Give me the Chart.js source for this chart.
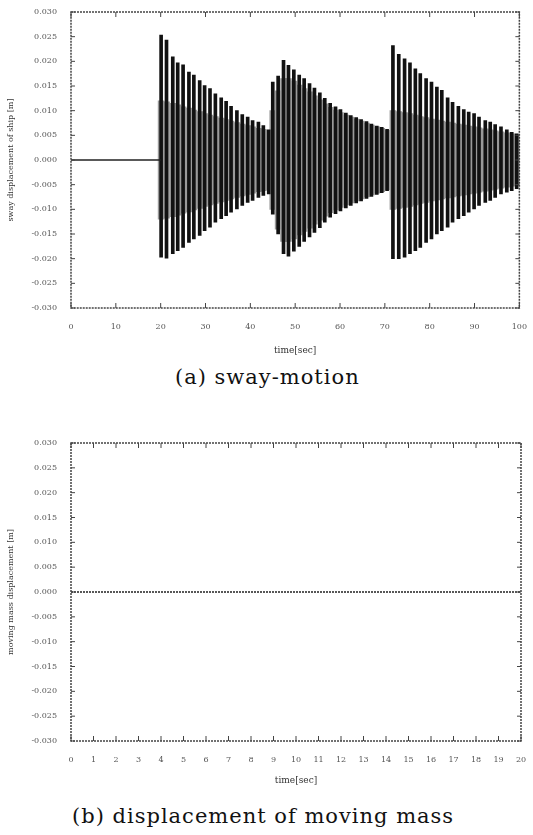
<!DOCTYPE html>
<html>
<head>
<meta charset="utf-8">
<script src="https://cdn.jsdelivr.net/npm/chart.js@4/dist/chart.umd.min.js"></script>
<style>
  body { margin: 0; background: #fff; width: 533px; height: 835px; position: relative; overflow: hidden; }
  canvas { position: absolute; left: 0; }
  .cap { position: absolute; font-family: "DejaVu Serif", serif; font-size: 21px; letter-spacing: 1px; color: #111; white-space: nowrap; }
</style>
</head>
<body>
<canvas id="swayChart" width="533" height="360" style="top:0px"></canvas>
<div class="cap" style="left:175px; top:365px;">(a) sway-motion</div>
<canvas id="massChart" width="533" height="360" style="top:430px"></canvas>
<div class="cap" style="left:72px; top:804px;">(b) displacement of moving mass</div>
<script>
  var yTicks = [-0.03, -0.025, -0.02, -0.015, -0.01, -0.005, 0, 0.005, 0.01, 0.015, 0.02, 0.025, 0.03];
  var swayXTicks = [0, 10, 20, 30, 40, 50, 60, 70, 80, 90, 100];
  var massXTicks = [0, 1, 2, 3, 4, 5, 6, 7, 8, 9, 10, 11, 12, 13, 14, 15, 16, 17, 18, 19, 20];

  // sway: resting part, then three excitations (each swing drawn as a column)
  var restTime = [0, 20];
  var restSway = [0, 0];
  var swingTime = [20.1, 21.3, 22.7, 23.8, 25.0, 26.3, 27.4, 28.7, 29.8, 31.0, 32.2, 33.5, 34.6, 35.7, 37.0, 38.2, 39.4, 40.5, 41.8, 42.9, 44.1,
    45.0, 46.2, 47.4, 48.5, 49.7, 50.9, 52.0, 53.2, 54.3, 55.5, 56.6, 57.8, 59.0, 60.1, 61.3, 62.4, 63.6, 64.7, 65.9, 67.0, 68.2, 69.3, 70.5,
    71.8, 73.1, 74.4, 75.6, 76.8, 77.9, 79.2, 80.4, 81.6, 82.7, 84.0, 85.1, 86.4, 87.6, 88.7, 89.9, 91.0, 92.4, 93.5, 94.6, 95.9, 97.2, 98.3, 99.4];
  var swingHigh = [.0253, .0243, .0209, .0197, .0193, .0178, .0172, .0161, .0151, .0145, .0134, .0126, .0119, .0109, .0100, .0092, .0087, .0080, .0077, .0070, .0061,
    .0158, .0170, .0202, .0192, .0183, .0172, .0165, .0155, .0146, .0136, .0125, .0115, .0108, .0102, .0095, .0090, .0086, .0082, .0078, .0073, .0069, .0066, .0062,
    .0232, .0214, .0205, .0197, .0185, .0175, .0165, .0158, .0148, .0141, .0126, .0117, .0109, .0102, .0097, .0094, .0087, .0080, .0077, .0072, .0067, .0061, .0056, .0053];
  var swingLow = [-.0197, -.0199, -.0190, -.0184, -.0177, -.0167, -.0160, -.0153, -.0143, -.0136, -.0126, -.0119, -.0113, -.0106, -.0099, -.0092, -.0086, -.0082, -.0076, -.0072, -.0069,
    -.0110, -.0150, -.0190, -.0195, -.0185, -.0175, -.0165, -.0156, -.0147, -.0137, -.0126, -.0116, -.0109, -.0103, -.0097, -.0092, -.0087, -.0083, -.0078, -.0074, -.0070, -.0066, -.0062,
    -.0200, -.0200, -.0197, -.0190, -.0184, -.0177, -.0167, -.0160, -.0150, -.0143, -.0136, -.0126, -.0119, -.0113, -.0106, -.0099, -.0092, -.0086, -.0082, -.0076, -.0069, -.0065, -.0062, -.0058];
  var innerAmp = [.0120, .0118, .0115, .0112, .0108, .0105, .0101, .0098, .0094, .0091, .0088, .0085, .0082, .0079, .0076, .0073, .0070, .0067, .0064, .0062, .0060,
    .0100, .0140, .0165, .0165, .0160, .0152, .0145, .0138, .0130, .0122, .0114, .0107, .0101, .0096, .0091, .0087, .0083, .0079, .0075, .0071, .0067, .0064, .0060,
    .0100, .0098, .0096, .0094, .0091, .0088, .0086, .0083, .0081, .0079, .0077, .0075, .0073, .0071, .0069, .0067, .0065, .0063, .0061, .0059, .0057, .0055, .0053, .0052];

  // moving mass: stays at zero
  var massTime = [0, 20];
  var massDisp = [0, 0];

  var boxPlugin = {
    id: 'box',
    afterDatasetsDraw: function(chart) {
      var a = chart.chartArea, c = chart.ctx;
      var xs = chart.scales.x, ys = chart.scales.y;
      c.save();
      c.strokeStyle = '#444';
      c.lineWidth = 1.5;
      c.setLineDash([2, 1]);
      c.strokeRect(a.left, a.top, a.right - a.left, a.bottom - a.top);
      c.setLineDash([]);
      c.lineWidth = 1;
      c.beginPath();
      xs.ticks.forEach(function(t) {
        var px = xs.getPixelForValue(t.value);
        c.moveTo(px, a.bottom); c.lineTo(px, a.bottom - 5);
        c.moveTo(px, a.top); c.lineTo(px, a.top + 5);
      });
      ys.ticks.forEach(function(t) {
        var py = ys.getPixelForValue(t.value);
        c.moveTo(a.left, py); c.lineTo(a.left + 4, py);
        c.moveTo(a.right, py); c.lineTo(a.right - 4, py);
      });
      c.stroke();
      c.restore();
    }
  };

  function pts(xs, ys) {
    var out = [];
    for (var i = 0; i < xs.length; i++) out.push({x: xs[i], y: ys[i]});
    return out;
  }

  function makeScales(xTicks, xMax, yTitle, xHeight) {
    return {
      x: {
        type: 'linear', min: 0, max: xMax, offset: false,
        afterBuildTicks: function(s) { s.ticks = xTicks.map(function(v) { return {value: v}; }); },
        afterFit: function(s) { s.height = xHeight; },
        grid: { display: false },
        border: { display: false },
        ticks: { autoSkip: false, maxRotation: 0, padding: 6, color: '#555', font: { family: 'DejaVu Serif', size: 8 } },
        title: { display: true, text: 'time[sec]', color: '#333', padding: {top: 6}, font: { family: 'DejaVu Serif', size: 9 } }
      },
      y: {
        min: -0.03, max: 0.03,
        afterBuildTicks: function(s) { s.ticks = yTicks.map(function(v) { return {value: v}; }); },
        afterFit: function(s) { s.width = 71; },
        grid: { display: false },
        border: { display: false },
        ticks: { padding: 6, color: '#555', font: { family: 'DejaVu Serif', size: 8 },
          callback: function(v) { return v.toFixed(3); } },
        title: { display: true, text: yTitle, color: '#333', padding: {top: 6, bottom: 2}, font: { family: 'DejaVu Serif', size: 8 } }
      }
    };
  }

  var ctx = document.getElementById('swayChart').getContext('2d');
  var swayInner = [];
  for (var i = 0; i < swingTime.length; i++) swayInner.push({x: swingTime[i], y: [-innerAmp[i], innerAmp[i]]});
  var swaySwing = [];
  for (var j = 0; j < swingTime.length; j++) swaySwing.push({x: swingTime[j], y: [swingLow[j], swingHigh[j]]});

  var chart = new Chart(ctx, {
    type: 'bar',
    data: {
      datasets: [{
        type: 'line', data: pts(restTime, restSway), borderColor: '#222', borderWidth: 1.5, pointRadius: 0, order: 1
      }, {
        data: swaySwing, backgroundColor: '#111', barThickness: 3, grouped: false, order: 2
      }, {
        data: swayInner, backgroundColor: '#9a9a9a', barThickness: 6, grouped: false, order: 3
      }]
    },
    options: {
      responsive: false, animation: false,
      layout: { padding: { top: 12, right: 12, left: 0, bottom: 0 } },
      plugins: { legend: { display: false }, tooltip: { enabled: false } },
      scales: makeScales(swayXTicks, 100, 'sway displacement of ship [m]', 52)
    },
    plugins: [boxPlugin]
  });

  var ctx2 = document.getElementById('massChart').getContext('2d');
  var chart2 = new Chart(ctx2, {
    type: 'line',
    data: {
      datasets: [{
        data: pts(massTime, massDisp), borderColor: '#222', borderWidth: 1.5, borderDash: [2, 1], pointRadius: 0
      }]
    },
    options: {
      responsive: false, animation: false,
      layout: { padding: { top: 13, right: 12, left: 0, bottom: 0 } },
      plugins: { legend: { display: false }, tooltip: { enabled: false } },
      scales: makeScales(massXTicks, 20, 'moving mass displacement [m]', 49)
    },
    plugins: [boxPlugin]
  });
</script>
</body>
</html>
